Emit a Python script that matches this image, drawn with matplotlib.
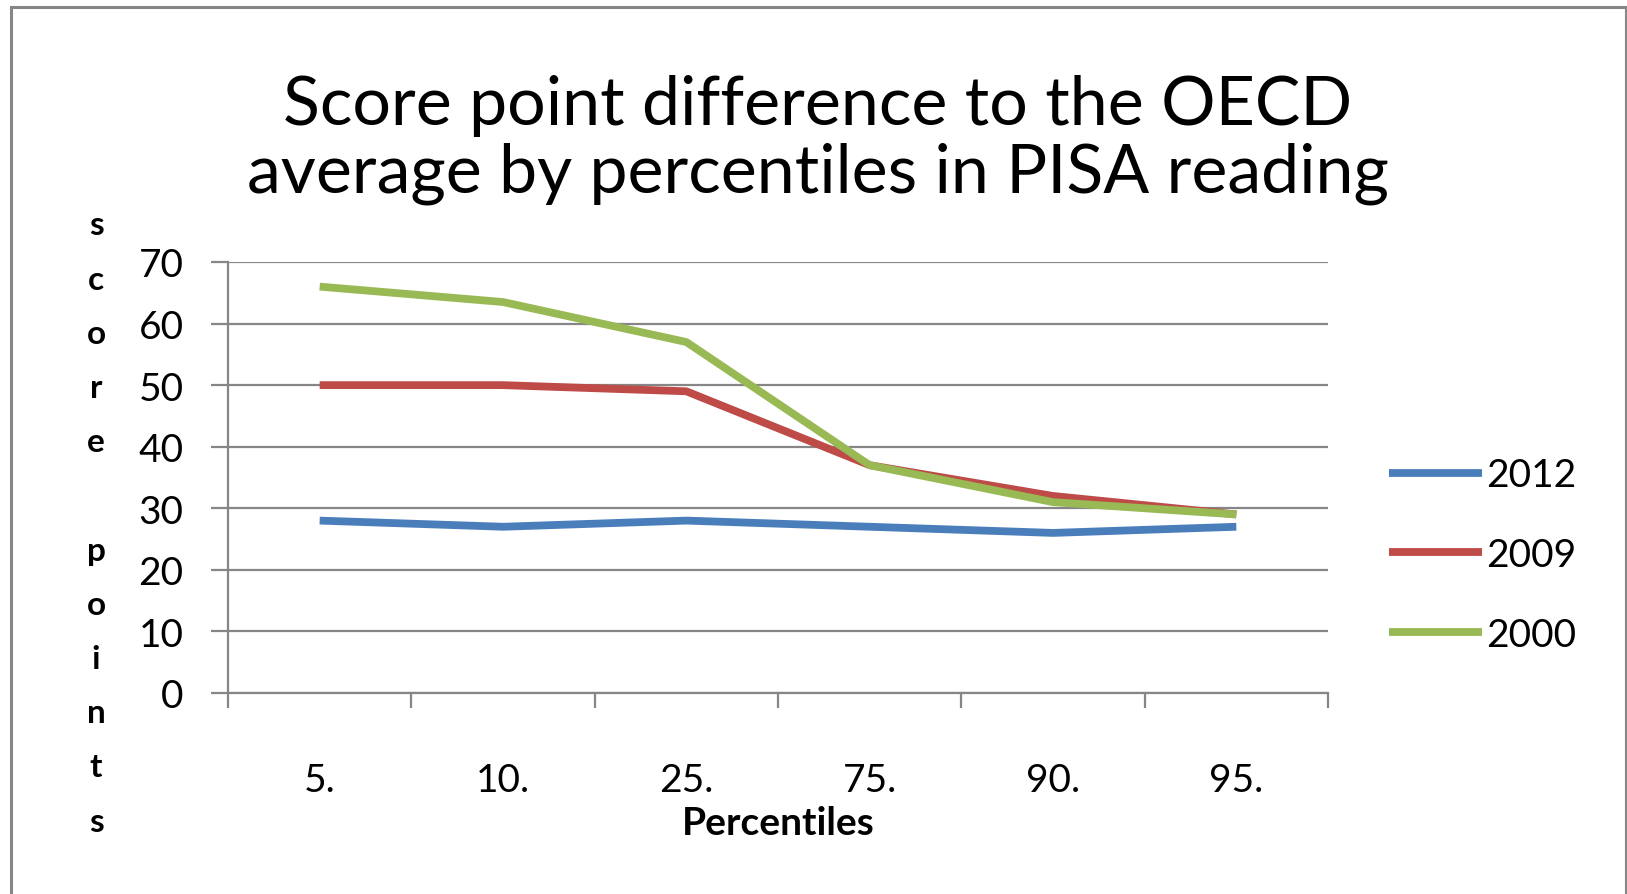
import matplotlib
matplotlib.use("Agg")
import matplotlib.pyplot as plt
from matplotlib.patches import Rectangle

plt.rcParams['font.family'] = ['Lato', 'DejaVu Sans']

categories = ["5.", "10.", "25.", "75.", "90.", "95."]
series_names = ["2012", "2009", "2000"]
vals_2012 = [28, 27, 28, 27, 26, 27]
vals_2009 = [50, 50, 49, 37, 32, 29]
vals_2000 = [66, 63.5, 57, 37, 31, 29]
y_ticks = [0, 10, 20, 30, 40, 50, 60, 70]
title = "Score point difference to the OECD\naverage by percentiles in PISA reading"
x_label = "Percentiles"
y_label = "score points"
colors = ["#4A7EBB", "#BE4B48", "#98B954"]

W, H = 1627, 895
fig = plt.figure(figsize=(W / 100, H / 100), dpi=100)
GRAY = "#868686"

# outer chart border
fig.patches.append(Rectangle((11 / W, -0.05), (1626 - 11) / W, 1 - 8 / H + 0.05,
                             transform=fig.transFigure, fill=False,
                             edgecolor=GRAY, linewidth=2.2))

left, right, top, bottom = 228, 1328, 263, 694
ax = fig.add_axes([left / W, 1 - bottom / H, (right - left) / W, (bottom - top) / H])

x = list(range(len(categories)))
for vals, name, c in zip([vals_2012, vals_2009, vals_2000], series_names, colors):
    ax.plot(x, vals, color=c, linewidth=5.6, label=name,
            solid_joinstyle='round', solid_capstyle='butt')

ax.set_xlim(-0.5, len(categories) - 0.5)
ax.set_ylim(0, 70)
ax.set_yticks(y_ticks)
ax.set_yticklabels([str(v) for v in y_ticks], fontsize=28)
ax.set_xticks(x)
ax.set_xticklabels(categories, fontsize=28)
ax.set_xticks([i - 0.5 for i in range(len(categories) + 1)], minor=True)
ax.tick_params(axis='x', which='major', length=0, pad=50)
ax.tick_params(axis='x', which='minor', length=11, width=1.6, color=GRAY)
ax.tick_params(axis='y', which='major', length=12, width=1.6, color=GRAY, pad=20)
ax.yaxis.grid(True, color=GRAY, linewidth=1.6)
ax.set_axisbelow(True)
for s in ['top', 'right']:
    ax.spines[s].set_visible(False)
for s in ['left', 'bottom']:
    ax.spines[s].set_color(GRAY)
    ax.spines[s].set_linewidth(1.6)

fig.text(818 / W, 1 - 140 / H, title, ha='center', va='center', fontsize=49,
         linespacing=1.12)
fig.text(778 / W, 1 - 824 / H, x_label, ha='center', va='center', fontsize=28,
         fontweight='bold')
fig.text(96 / W, 1 - 524 / H, "\n".join(y_label), ha='center', va='center',
         fontsize=24, fontweight='bold', linespacing=2.05)

fig.legend(loc='center left', bbox_to_anchor=(1389 / W, 1 - 556 / H),
           frameon=False, fontsize=28, handlelength=2.4, handletextpad=0.1,
           labelspacing=1.12, borderpad=0, borderaxespad=0)

fig.savefig("out.png", dpi=100, facecolor="white")
